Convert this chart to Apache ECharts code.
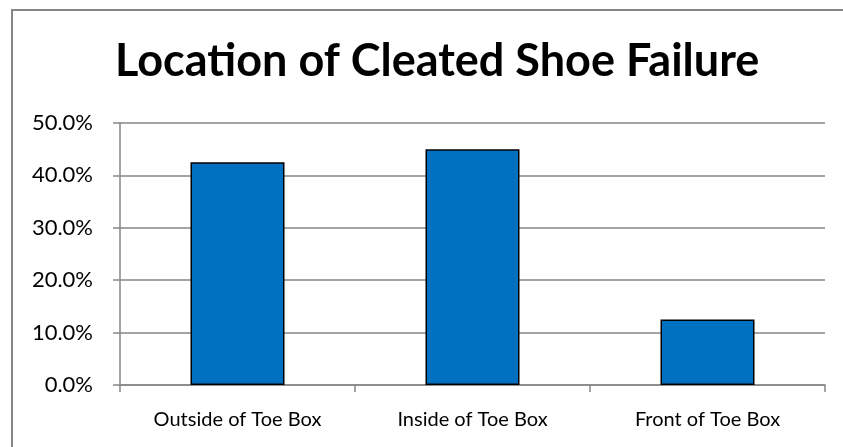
<!DOCTYPE html>
<html><head><meta charset="utf-8">
<script src="https://cdn.jsdelivr.net/npm/echarts@6/dist/echarts.min.js"></script>
<style>html,body{margin:0;padding:0;background:#fff}#c{width:843px;height:447px}</style>
</head><body><div id="c"></div>
<script>
const titleText = 'Location of Cleated Shoe Failure';
const categories = ['Outside of Toe Box', 'Inside of Toe Box', 'Front of Toe Box'];
const values = [42.5, 45.0, 12.5];
const yMin = 0, yMax = 50, yInterval = 10;

const chart = echarts.init(document.getElementById('c'));
const font = 'Lato, "Open Sans", sans-serif';
chart.setOption({
  animation: false,
  title: {
    text: titleText, left: 110, top: 34,
    textStyle: {fontFamily: font, fontWeight: 'bold', fontSize: 45, color: '#000'}
  },
  graphic: [{type: 'rect', shape: {x: 12, y: 10, width: 900, height: 500},
    style: {fill: 'none', stroke: '#868686', lineWidth: 2}, silent: true}],
  grid: {left: 120, right: 18, top: 123, bottom: 62},
  xAxis: {
    type: 'category', data: categories,
    axisLine: {lineStyle: {color: '#868686', width: 1.5}},
    axisTick: {show: true, alignWithLabel: false, length: 7, lineStyle: {color: '#868686', width: 1.5}},
    axisLabel: {fontFamily: font, fontSize: 20, color: '#000', margin: 25}
  },
  yAxis: {
    type: 'value', min: yMin, max: yMax, interval: yInterval,
    axisLine: {show: true, lineStyle: {color: '#868686', width: 1.5}},
    axisTick: {show: true, length: 7, lineStyle: {color: '#868686', width: 1.5}},
    splitLine: {lineStyle: {color: '#868686', width: 1.5}},
    axisLabel: {fontFamily: font, fontSize: 22, color: '#000', margin: 27,
      formatter: v => v.toFixed(1) + '%'}
  },
  series: [{
    type: 'bar', data: values, barWidth: '40%',
    itemStyle: {color: '#0070C0', borderColor: '#000', borderWidth: 1.5}
  }]
});
</script></body></html>
